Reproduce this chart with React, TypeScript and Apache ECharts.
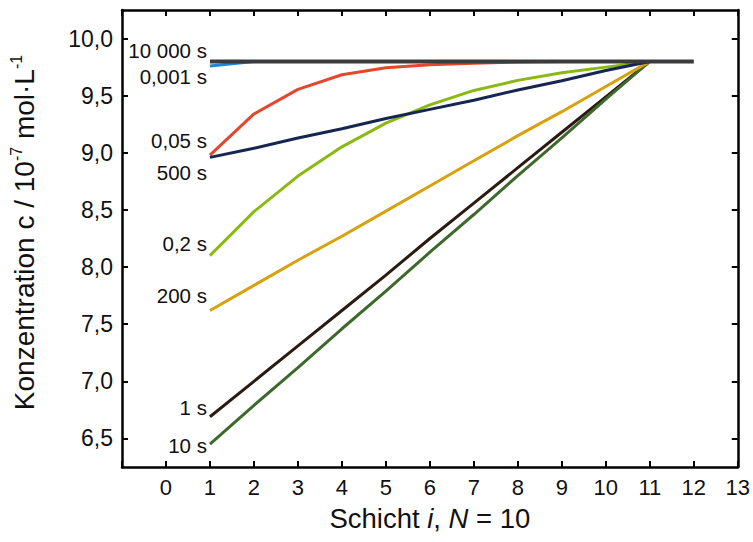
import React, { useEffect, useRef } from "react";
import * as echarts from "echarts";

const layers = [1, 2, 3, 4, 5, 6, 7, 8, 9, 10, 11];
const layersLong = [1, 2, 3, 4, 5, 6, 7, 8, 9, 10, 11, 12];

const s0001 = [9.76, 9.8, 9.8, 9.8, 9.8, 9.8, 9.8, 9.8, 9.8, 9.8, 9.8];
const s005 = [8.98, 9.34, 9.555, 9.683, 9.744, 9.77, 9.785, 9.795, 9.8, 9.8, 9.8];
const s02 = [8.1, 8.485, 8.796, 9.052, 9.26, 9.42, 9.546, 9.634, 9.7, 9.75, 9.8];
const s1 = [6.69, 7.0, 7.31, 7.62, 7.93, 8.25, 8.56, 8.87, 9.18, 9.49, 9.8];
const s10 = [6.45, 6.79, 7.12, 7.46, 7.79, 8.13, 8.46, 8.8, 9.13, 9.47, 9.8];
const s200 = [7.62, 7.84, 8.06, 8.27, 8.49, 8.71, 8.93, 9.15, 9.36, 9.58, 9.8];
const s500 = [8.96, 9.04, 9.13, 9.21, 9.3, 9.38, 9.46, 9.55, 9.63, 9.72, 9.8];
const s10000 = [9.8, 9.8, 9.8, 9.8, 9.8, 9.8, 9.8, 9.8, 9.8, 9.8, 9.8, 9.8];

const yTicks = [6.5, 7.0, 7.5, 8.0, 8.5, 9.0, 9.5, 10.0];

const FONT = "'Liberation Sans', Arial, sans-serif";

const seriesDefs = [
  { name: "0,001 s", xs: layers, ys: s0001, color: "#1f86dd", width: 3, dy: 11 },
  { name: "0,05 s", xs: layers, ys: s005, color: "#e5472c", width: 3, dy: -15 },
  { name: "0,2 s", xs: layers, ys: s02, color: "#8bb913", width: 3, dy: -12 },
  { name: "1 s", xs: layers, ys: s1, color: "#2b1b10", width: 3, dy: -9 },
  { name: "10 s", xs: layers, ys: s10, color: "#3d6a2c", width: 3, dy: 1 },
  { name: "200 s", xs: layers, ys: s200, color: "#d8a10d", width: 3, dy: -15 },
  { name: "500 s", xs: layers, ys: s500, color: "#15264f", width: 3, dy: 15 },
  { name: "10 000 s", xs: layersLong, ys: s10000, color: "#3b3b3d", width: 4, dy: -11 },
];

export default function App() {
  const ref = useRef<HTMLDivElement>(null);
  useEffect(() => {
    if (!ref.current) return;
    const chart = echarts.init(ref.current, null, { renderer: "svg" });
    const series = seriesDefs.map((d) => ({
      type: "line",
      name: d.name,
      showSymbol: true,
      symbol: "circle",
      symbolSize: 0,
      lineStyle: { color: d.color, width: d.width },
      itemStyle: { color: d.color },
      emphasis: { disabled: true },
      data: d.xs.map((x, i) =>
        i === 0
          ? {
              value: [x, d.ys[i]],
              label: {
                show: true,
                position: "left",
                distance: 3,
                offset: [0, d.dy],
                formatter: d.name,
                color: "#111",
                fontSize: 20.5,
                fontFamily: FONT,
              },
            }
          : [x, d.ys[i]]
      ),
    }));
    const axisLine = { show: true, onZero: false, lineStyle: { color: "#000", width: 2.5 } };
    const tick = { show: true, inside: true, length: 6, lineStyle: { color: "#000", width: 2 } };
    chart.setOption({
      animation: false,
      backgroundColor: "#fff",
      grid: { left: 122, right: 15, top: 10, bottom: 75, containLabel: false },
      xAxis: [
        {
          type: "value",
          min: -1,
          max: 13,
          interval: 1,
          axisLine,
          splitLine: { show: false },
          axisTick: tick,
          axisLabel: {
            color: "#111",
            fontSize: 22,
            fontFamily: FONT,
            margin: 9,
            formatter: (v: number) => (v === -1 ? "" : String(v)),
          },
          name: "Schicht {it|i}, {it|N} = 10",
          nameLocation: "middle",
          nameGap: 37,
          nameTextStyle: {
            color: "#111",
            fontSize: 27.5,
            fontFamily: FONT,
            rich: { it: { fontStyle: "italic", fontSize: 27.5, fontFamily: FONT, color: "#111" } },
          },
        },
        {
          type: "value",
          position: "top",
          min: -1,
          max: 13,
          interval: 1,
          axisLine,
          splitLine: { show: false },
          axisTick: tick,
          axisLabel: { show: false },
        },
      ],
      yAxis: [
        {
          type: "value",
          min: 6.25,
          max: 10.25,
          axisLine,
          splitLine: { show: false },
          axisTick: { ...tick, customValues: yTicks },
          axisLabel: {
            color: "#111",
            fontSize: 23,
            fontFamily: FONT,
            margin: 9,
            customValues: yTicks,
            formatter: (v: number) => v.toFixed(1).replace(".", ","),
          },
          name: "Konzentration c / 10{sup|-7} mol·L{sup|-1}",
          nameLocation: "middle",
          nameRotate: 90,
          nameGap: 82,
          nameTextStyle: {
            color: "#111",
            fontSize: 28,
            fontFamily: FONT,
            lineHeight: 32,
            padding: [0, 0, 0, 12],
            rich: {
              sup: { fontSize: 16, verticalAlign: "top", lineHeight: 32, fontFamily: FONT, color: "#111" },
            },
          },
        },
        {
          type: "value",
          position: "right",
          min: 6.25,
          max: 10.25,
          axisLine,
          splitLine: { show: false },
          axisTick: { ...tick, customValues: yTicks },
          axisLabel: { show: false },
        },
      ],
      series,
    });
    return () => chart.dispose();
  }, []);
  return <div ref={ref} style={{ width: 753, height: 542, position: "absolute", left: 0, top: 0 }} />;
}
